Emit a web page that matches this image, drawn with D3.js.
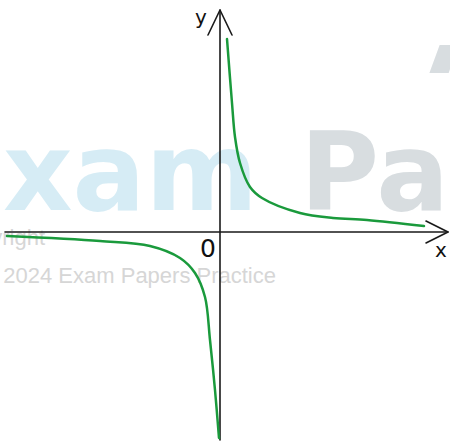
<!DOCTYPE html>
<html>
<head>
<meta charset="utf-8">
<script src="https://cdn.jsdelivr.net/npm/d3@7"></script>
<style>
  body { margin: 0; background: #fff; }
  svg { display: block; }
</style>
</head>
<body>
<div id="container"></div>
<script>
/* CONSTANTS AND GLOBALS */
const width = 450,
  height = 448;

// points, in axis units (origin at the crossing)
const rightBranch = [
  [0.35, 9.65], [0.6, 6.45], [0.75, 4.75], [1.0, 3.45], [1.5, 2.25],
  [2.1, 1.7], [4.0, 0.95], [5.65, 0.7], [7.35, 0.6], [10.2, 0.3]
];
const leftBranch = [
  [-10.65, -0.2], [-6.0, -0.45], [-3.5, -0.7], [-2.0, -1.3], [-1.25, -2.05],
  [-0.75, -3.25], [-0.5, -5.4], [-0.25, -7.9], [-0.05, -10.3]
];
const axisLabels = ["x", "y"];
const originLabel = "0";
const watermarkWords = ["Exam", "Pa", "A"];
const copyrightLines = ["Copyright", "© 2024 Exam Papers Practice"];

// scales: 20px per unit, origin at (220, 232)
const xScale = d3.scaleLinear().domain([-10.75, 11.4]).range([5, 448]);
const yScale = d3.scaleLinear().domain([-10.4, 11.1]).range([440, 10]);

const svg = d3.select("#container")
  .append("svg")
  .attr("width", width)
  .attr("height", height);

/* WATERMARK */
const wm = svg.append("g")
  .attr("font-family", "'DejaVu Sans', sans-serif")
  .attr("font-weight", "bold")
  .attr("font-size", 108);

wm.append("text")
  .attr("x", 258).attr("y", 210)
  .attr("text-anchor", "end")
  .attr("fill", "#d6ecf5")
  .text(watermarkWords[0]);

wm.append("text")
  .attr("x", 300).attr("y", 210)
  .attr("fill", "#d8dde0")
  .text(watermarkWords[1]);

svg.append("clipPath").attr("id", "topA")
  .append("rect").attr("x", 400).attr("y", 0).attr("width", 50).attr("height", 73);
wm.append("text")
  .attr("x", 410).attr("y", 124)
  .attr("fill", "#d8dde0")
  .attr("clip-path", "url(#topA)")
  .text(watermarkWords[2]);

const cp = svg.append("g")
  .attr("font-family", "'Liberation Sans', Arial, sans-serif")
  .attr("font-size", 22)
  .attr("fill", "#d6d6d6")
  .attr("text-anchor", "end");
cp.append("text").attr("x", 45).attr("y", 245).text(copyrightLines[0]);
cp.append("text").attr("x", 276).attr("y", 283).text(copyrightLines[1]);

/* AXES */
const axes = svg.append("g")
  .attr("stroke", "#1a1a1a")
  .attr("stroke-width", 1.6)
  .attr("fill", "none")
  .attr("stroke-linecap", "round")
  .attr("stroke-linejoin", "round");

const x0 = xScale(0), y0 = yScale(0);

// x axis
axes.append("line")
  .attr("x1", xScale.range()[0]).attr("y1", y0)
  .attr("x2", xScale.range()[1]).attr("y2", y0);
axes.append("path")
  .attr("d", `M${xScale.range()[1] - 22},${y0 - 11} L${xScale.range()[1]},${y0} L${xScale.range()[1] - 22},${y0 + 11}`);

// y axis
axes.append("line")
  .attr("x1", x0).attr("y1", yScale.range()[0])
  .attr("x2", x0).attr("y2", yScale.range()[1]);
axes.append("path")
  .attr("d", `M${x0 - 12},${yScale.range()[1] + 25} L${x0},${yScale.range()[1]} L${x0 + 12},${yScale.range()[1] + 25}`);

/* LABELS */
const labels = svg.append("g")
  .attr("font-family", "'DejaVu Sans', sans-serif")
  .attr("fill", "#111");
labels.append("text").attr("x", 441).attr("y", 257).attr("font-size", 20).attr("text-anchor", "middle").text(axisLabels[0]);
labels.append("text").attr("x", 201).attr("y", 24).attr("font-size", 20).attr("text-anchor", "middle").text(axisLabels[1]);
labels.append("text").attr("x", 208).attr("y", 257).attr("font-size", 25).attr("text-anchor", "middle").text(originLabel);

/* CURVE */
const line = d3.line()
  .x(d => xScale(d[0]))
  .y(d => yScale(d[1]))
  .curve(d3.curveCatmullRom.alpha(0.5));

svg.selectAll("path.branch")
  .data([rightBranch, leftBranch])
  .join("path")
  .attr("class", "branch")
  .attr("d", line)
  .attr("fill", "none")
  .attr("stroke", "#1a9a3c")
  .attr("stroke-width", 2.5)
  .attr("stroke-linecap", "round");
</script>
</body>
</html>
